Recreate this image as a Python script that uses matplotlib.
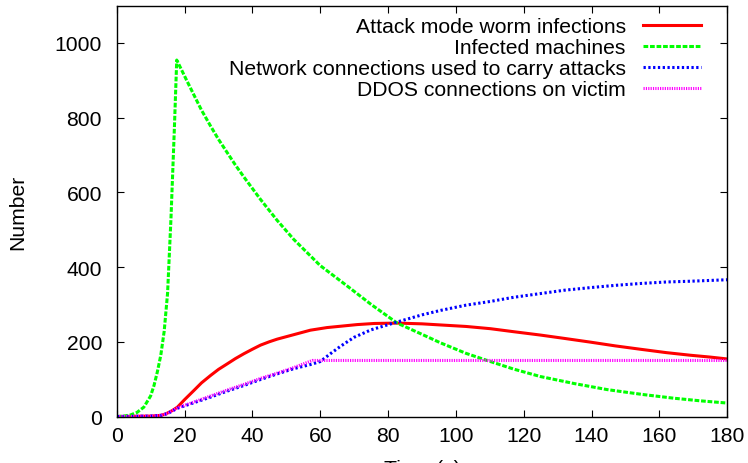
import matplotlib
matplotlib.use("Agg")
import matplotlib.pyplot as plt

plt.rcParams['font.family'] = ['Liberation Sans', 'DejaVu Sans']
plt.rcParams['lines.scale_dashes'] = False

# ---- data ----
t_attack = [0, 10, 13, 14.5, 16.4, 17.9, 20, 22.8, 25, 27.7, 30, 32.6, 35, 37.5, 40, 42.4,
            45, 47.3, 52.2, 57.1, 62, 70.9, 76, 82.7, 90, 95.5, 103, 110.2, 117, 124.9,
            132, 139.7, 147, 154.4, 162, 169.1, 175, 180]
v_attack = [0, 1, 3, 7, 16, 25, 45, 70, 90, 110, 126, 141, 155, 168, 180, 191,
            200, 207, 219, 231, 238, 246, 249, 250, 248, 245, 241, 235, 227, 218,
            209, 199, 189, 180, 171, 164, 159, 154]

t_infected = [0, 2, 4, 6, 8, 10, 11, 12, 13, 14, 15, 16, 17, 17.7, 19, 20.5, 22.8, 25,
              27.7, 30, 32.6, 35, 37.5, 42.4, 47.3, 52.2, 60, 68, 75, 82.7, 90, 95.5,
              103, 110.2, 117, 124.9, 135, 144.6, 155, 164.2, 172, 180]
v_infected = [0, 1, 4, 11, 25, 55, 83, 120, 164, 228, 330, 530, 770, 954, 930, 902, 860, 820,
              777, 742, 706, 673, 641, 581, 525, 474, 404, 349, 300, 250, 220, 197,
              169, 147, 127, 107, 88, 72, 59, 49, 42, 36]

t_network = [0, 10, 13, 15, 17.9, 22.8, 27.7, 32.6, 37.5, 42.4, 47.3, 52.2, 57.1, 60,
             63, 66, 70, 75, 82.7, 90, 95.5, 103, 110.2, 117, 124.9, 132, 139.7, 147,
             154.4, 162, 169, 180]
v_network = [0, 1, 3, 8, 22, 37, 52, 68, 83, 99, 114, 128, 139, 147,
             168, 188, 212, 232, 253, 272, 284, 298, 308, 319, 329, 338, 345, 351,
             356, 360, 362, 366]

t_ddos = [0, 10, 13, 15, 17.9, 22.8, 27.7, 32.6, 37.5, 42.4, 47.3, 52.2, 57.7, 180]
v_ddos = [0, 1, 3, 8, 23, 39, 55, 71, 86, 102, 116, 131, 150, 150]

labels = ["Attack mode worm infections", "Infected machines",
          "Network connections used to carry attacks", "DDOS connections on victim"]
x_ticks = [0, 20, 40, 60, 80, 100, 120, 140, 160, 180]
y_ticks = [0, 200, 400, 600, 800, 1000]

FS = 15.2

fig = plt.figure(figsize=(7.48, 4.64), dpi=100)
ax = fig.add_axes([116.7 / 748, (464 - 417.5) / 464, 610.5 / 748, 411 / 464])

lw = 2.2
ax.plot(t_attack, v_attack, color='#ff0000', lw=lw, label=labels[0])
ax.plot(t_infected, v_infected, color='#00ff00', lw=lw, linestyle=(0, (3.4, 1.3)), label=labels[1])
ax.plot(t_network, v_network, color='#0000ff', lw=lw, linestyle=(0, (1.65, 1.8)), label=labels[2])
ax.plot(t_ddos, v_ddos, color='#ff00ff', lw=lw, linestyle=(0, (0.85, 0.85)), label=labels[3])

ax.set_xlim(0, 180)
ax.set_ylim(0, 1100)
ax.set_xticks(x_ticks)
ax.set_yticks(y_ticks)
ax.tick_params(axis='both', which='both', direction='in', length=5, width=0.8,
               top=True, right=True, labelsize=FS)
ax.tick_params(axis='y', pad=10.5)
ax.tick_params(axis='x', pad=7)
for s in ax.spines.values():
    s.set_linewidth(1.0)

ax.set_ylabel("Number", fontsize=FS)
ax.yaxis.set_label_coords((27 - 116.7) / 610.5, 0.5)
ax.set_xlabel("Time (s)", fontsize=FS)
ax.xaxis.set_label_coords(0.5, (417.5 - 460.5) / 411)

ax.legend(loc='upper right', bbox_to_anchor=((701 - 116.7) / 610.5, (417.5 - 18) / 411),
          markerfirst=False, frameon=False, fontsize=FS, handlelength=2.75,
          handletextpad=0.82, labelspacing=0.1, borderpad=0, borderaxespad=0)

fig.savefig("out.png", dpi=100)
